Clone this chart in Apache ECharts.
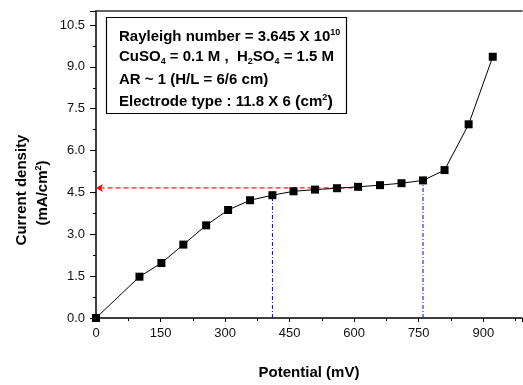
<!DOCTYPE html>
<html>
<head>
<meta charset="utf-8">
<script src="https://cdn.jsdelivr.net/npm/echarts@6/dist/echarts.min.js"></script>
<style>
  html, body { margin: 0; padding: 0; background: #fff; }
  #chart { width: 523px; height: 385px; }
</style>
</head>
<body>
<div id="chart"></div>
<script>
// measured points: potential (mV) vs current density (mA/cm2)
const potential = [0, 101, 152, 203, 256, 307, 358, 410, 459, 509, 560, 609, 660, 710, 760, 810, 866, 922];
const currentDensity = [0, 1.48, 1.97, 2.63, 3.32, 3.87, 4.22, 4.40, 4.54, 4.60, 4.65, 4.70, 4.76, 4.83, 4.93, 5.30, 6.94, 9.36];

const xTickLabels = ['0', '150', '300', '450', '600', '750', '900'];
const yTickLabels = ['0.0', '1.5', '3.0', '4.5', '6.0', '7.5', '9.0', '10.5'];

// limiting current plateau guides
const plateauLevel = 4.66;
const plateauEnd = 615;
const plateauBounds = [410, 760];
const plateauBoundsY = [4.40, 4.93];

const FONT = 'Arial, "Liberation Sans", sans-serif';
const boldTxt = 'bold 15px ' + FONT;
const boldSmall = 'bold 9px ' + FONT;

const chart = echarts.init(document.getElementById('chart'));

// vertical blue dash-dot guides, one series each
const blueSeries = plateauBounds.map((x, i) => ({
  type: 'line',
  data: [[x, 0], [x, plateauBoundsY[i]]],
  symbol: 'none',
  silent: true,
  color: '#0000ff',
  lineStyle: { color: '#0000ff', type: [4, 2, 1, 2], width: 1 },
  z: 3
}));

// horizontal red dashed guide, arrow at the axis end
const redSeries = {
  type: 'line',
  data: [
    { value: [plateauEnd, plateauLevel], symbol: 'none' },
    { value: [0, plateauLevel], symbol: 'arrow', symbolSize: [6, 7], symbolRotate: 90 }
  ],
  symbol: 'none',
  showSymbol: true,
  silent: true,
  color: '#ff0000',
  itemStyle: { color: '#ff0000' },
  lineStyle: { color: '#ff1a1a', type: [5, 3], width: 1.3 },
  z: 4
};

const option = {
  animation: false,
  grid: { left: 96, right: 1, top: 11, bottom: 55.5 },
  xAxis: [
    {
      type: 'value',
      min: 0,
      max: 990,
      interval: 150,
      name: 'Potential (mV)',
      nameLocation: 'middle',
      nameGap: 47,
      nameTextStyle: { fontFamily: FONT, fontWeight: 'bold', fontSize: 15, color: '#000' },
      axisLine: { show: true, onZero: false, lineStyle: { color: '#000', width: 1.5 } },
      axisTick: { show: true, inside: false, length: 4, lineStyle: { color: '#000', width: 1 } },
      minorTick: { show: true, splitNumber: 2, length: 3, lineStyle: { color: '#000', width: 1 } },
      axisLabel: {
        fontFamily: FONT, fontSize: 13, color: '#111', margin: 9,
        showMaxLabel: false,
        formatter: v => xTickLabels[Math.round(v / 150)] ?? ''
      },
      splitLine: { show: false }
    },
    {
      type: 'value',
      position: 'top',
      min: 0,
      max: 990,
      axisLine: { show: true, onZero: false, lineStyle: { color: '#333', width: 1.5 } },
      axisTick: { show: false },
      axisLabel: { show: false },
      splitLine: { show: false }
    }
  ],
  yAxis: {
    type: 'value',
    min: 0,
    max: 11,
    interval: 1.5,
    axisLine: { show: true, onZero: false, lineStyle: { color: '#000', width: 1.5 } },
    axisTick: { show: true, inside: false, length: 6, lineStyle: { color: '#000', width: 1 } },
    minorTick: { show: true, splitNumber: 2, length: 3, lineStyle: { color: '#000', width: 1 } },
    axisLabel: {
      fontFamily: FONT, fontSize: 13, color: '#111', margin: 11,
      showMaxLabel: false,
      formatter: v => yTickLabels[Math.round(v / 1.5)] ?? ''
    },
    splitLine: { show: false }
  },
  graphic: [
    {
      type: 'text',
      x: 22, y: 190,
      rotation: Math.PI / 2,
      style: {
        text: 'Current density',
        font: boldTxt,
        fill: '#000',
        align: 'center',
        verticalAlign: 'middle'
      }
    },
    {
      type: 'text',
      x: 43, y: 193,
      rotation: Math.PI / 2,
      style: {
        text: '{b|(mA/cm}{sup|2}{b|)}',
        rich: {
          b: { font: boldTxt, fill: '#000' },
          sup: { font: boldSmall, fill: '#000', padding: [0, 0, 9, 0] }
        },
        align: 'center',
        verticalAlign: 'middle'
      }
    },
    {
      type: 'rect',
      shape: { x: 106.5, y: 17.5, width: 240, height: 96 },
      style: { fill: '#fff', stroke: '#000', lineWidth: 1.2 },
      z: 10
    },
    {
      type: 'text',
      x: 119, y: 37, z: 11,
      style: {
        text: '{b|Rayleigh number = 3.645 X 10}{sup|10}',
        rich: {
          b: { font: boldTxt, fill: '#000' },
          sup: { font: boldSmall, fill: '#000', padding: [0, 0, 9, 0] }
        },
        verticalAlign: 'middle'
      }
    },
    {
      type: 'text',
      x: 119, y: 57, z: 11,
      style: {
        text: '{b|CuSO}{sub|4}{b| = 0.1 M ,  H}{sub|2}{b|SO}{sub|4}{b| = 1.5 M}',
        rich: {
          b: { font: boldTxt, fill: '#000' },
          sub: { font: boldSmall, fill: '#000', padding: [9, 0, 0, 0] }
        },
        verticalAlign: 'middle'
      }
    },
    {
      type: 'text',
      x: 119, y: 80, z: 11,
      style: {
        text: 'AR ~ 1 (H/L = 6/6 cm)',
        font: boldTxt,
        fill: '#000',
        verticalAlign: 'middle'
      }
    },
    {
      type: 'text',
      x: 119, y: 102, z: 11,
      style: {
        text: '{b|Electrode type : 11.8 X 6 }{p|(}{b|cm}{sup|2}{p|)}',
        rich: {
          b: { font: boldTxt, fill: '#000' },
          p: { font: 'bold 17px ' + FONT, fill: '#000' },
          sup: { font: boldSmall, fill: '#000', padding: [0, 0, 9, 0] }
        },
        verticalAlign: 'middle'
      }
    }
  ],
  series: [
    {
      type: 'line',
      data: potential.map((x, i) => [x, currentDensity[i]]),
      symbol: 'rect',
      symbolSize: 8,
      itemStyle: { color: '#000' },
      lineStyle: { color: '#000', width: 1 },
      z: 5
    },
    redSeries
  ].concat(blueSeries)
};

chart.setOption(option);
</script>
</body>
</html>
